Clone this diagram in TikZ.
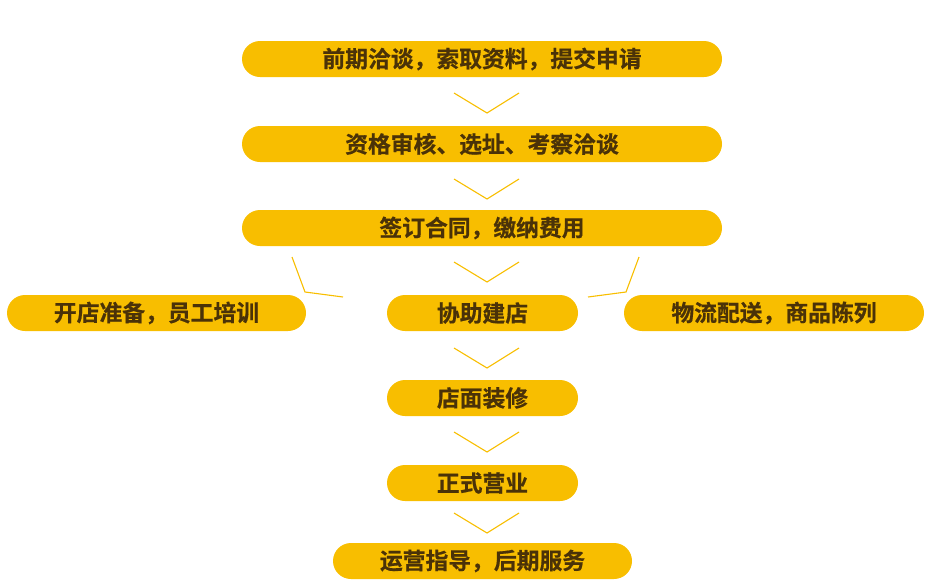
\documentclass[tikz,border=0pt]{standalone}
\usepackage{fontspec}
\newfontfamily\cjk[FakeBold=0.6]{Noto Sans CJK SC Bold}
\definecolor{pill}{HTML}{F8BE00}
\definecolor{txt}{HTML}{4A3208}
\begin{document}
\begin{tikzpicture}[x=1pt,y=-1pt,
  conn/.style={draw=pill,line width=1.1pt}]
\useasboundingbox (0,0) rectangle (933,584);
\newcommand{\pillat}[6]{%
  \fill[pill,rounded corners=18pt] (#1,#3) rectangle (#2,#4);
  \node[font=\cjk\fontsize{22.8}{24}\selectfont,text=txt,inner sep=0pt] (#5) at ({(#1+#2)/2},{(#3+#4)/2}) {#6};}
\pillat{242}{722}{41}{77}{b1}{前期洽谈，索取资料，提交申请}
\pillat{242}{722}{126}{162}{b2}{资格审核、选址、考察洽谈}
\pillat{242}{722}{210}{246}{b3}{签订合同，缴纳费用}
\pillat{7}{306}{295}{331}{b4}{开店准备，员工培训}
\pillat{387}{578}{295}{331}{b5}{协助建店}
\pillat{624}{924}{295}{331}{b6}{物流配送，商品陈列}
\pillat{387}{578}{380}{416}{b7}{店面装修}
\pillat{387}{578}{465}{501}{b8}{正式营业}
\pillat{333}{632}{543}{579}{b9}{运营指导，后期服务}
\foreach \y [count=\i] in {93,179,262,348,432,513} {
  \coordinate (cl\i) at (454,\y);
  \coordinate (cv\i) at (487,\y+20);
  \coordinate (cr\i) at (519,\y);
  \draw[conn] (cl\i) -- (cv\i) -- (cr\i);
}
\coordinate (la) at (292,257); \coordinate (lb) at (305,292); \coordinate (lc) at (343,297);
\draw[conn] (la) -- (lb) -- (lc);
\coordinate (ra) at (639,257); \coordinate (rb) at (626,292); \coordinate (rc) at (588,297);
\draw[conn] (ra) -- (rb) -- (rc);
\end{tikzpicture}
\end{document}
